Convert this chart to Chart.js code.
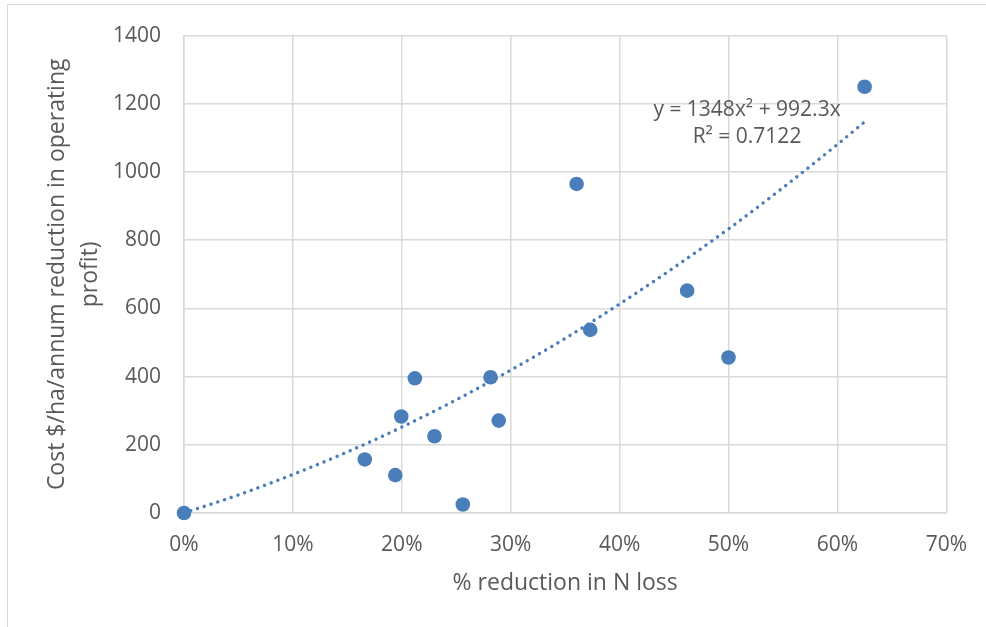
<!DOCTYPE html>
<html>
<head>
<meta charset="utf-8">
<script src="https://cdn.jsdelivr.net/npm/chart.js@4/dist/chart.umd.min.js"></script>
<style>
    html, body { margin: 0; padding: 0; background: #fff; }
    #wrap { position: relative; width: 986px; height: 627px; overflow: hidden; }
    #frame { position: absolute; left: 7px; top: 4px; width: 1000px; height: 700px; border: 1px solid #d9d9d9; box-sizing: border-box; }
    #chart { position: absolute; left: 0; top: 0; }
</style>
</head>
<body>
<div id="wrap">
    <div id="frame"></div>
    <canvas id="chart" width="986" height="627"></canvas>
</div>
<script>
// measured points: fraction of N loss reduced vs cost ($/ha/annum)
const nLossReduction = [0, 0.166, 0.194, 0.1995, 0.212, 0.230, 0.256, 0.2815, 0.289, 0.3605, 0.373, 0.462, 0.500, 0.625];
const costPerHa = [0, 157, 111, 283, 395, 225, 25, 398, 271, 965, 537, 652, 456, 1250];

// polynomial trendline as drawn (y = 1348x² + 992.3x), read at 5% steps
const trendX = [0, 0.05, 0.10, 0.15, 0.20, 0.25, 0.30, 0.35, 0.40, 0.45, 0.50, 0.55, 0.60, 0.625];
const trendY = [0, 53, 113, 179, 252, 332, 419, 512, 613, 720, 833, 954, 1081, 1147];

const xTicks = [0, 0.1, 0.2, 0.3, 0.4, 0.5, 0.6, 0.7];
const yTicks = [0, 200, 400, 600, 800, 1000, 1200, 1400];

const trendLabel = ['y = 1348x² + 992.3x', 'R² = 0.7122'];

const FONT = "'Open Sans', 'Noto Sans', sans-serif";
const TEXT = '#595959';
const GRID = '#d9d9d9';
const BLUE = '#4a7ebb';

const trendText = {
    id: 'trendText',
    afterDatasetsDraw(chart) {
        const ctx = chart.ctx;
        const xs = chart.scales.x, ys = chart.scales.y;
        ctx.save();
        ctx.font = '21px ' + FONT;
        ctx.fillStyle = TEXT;
        ctx.textAlign = 'center';
        ctx.textBaseline = 'middle';
        ctx.fillText(trendLabel[0], xs.getPixelForValue(0.517), ys.getPixelForValue(1182));
        ctx.fillText(trendLabel[1], xs.getPixelForValue(0.517), ys.getPixelForValue(1103));
        ctx.restore();
    }
};

new Chart(document.getElementById('chart'), {
    type: 'scatter',
    data: {
        datasets: [{
            label: 'Cost',
            data: nLossReduction.map((x, i) => ({ x: x, y: costPerHa[i] })),
            backgroundColor: BLUE,
            borderColor: BLUE,
            pointRadius: 7.3,
            pointHoverRadius: 7.3,
            borderWidth: 0,
            clip: false
        }, {
            label: 'Poly. (Cost)',
            data: trendX.map((x, i) => ({ x: x, y: trendY[i] })),
            showLine: true,
            pointRadius: 0,
            borderColor: BLUE,
            borderWidth: 3.4,
            borderDash: [0.1, 7],
            borderCapStyle: 'round',
            cubicInterpolationMode: 'monotone',
            fill: false,
            clip: false
        }]
    },
    options: {
        responsive: false,
        animation: false,
        events: [],
        layout: { padding: { left: 0, right: 38, top: 33, bottom: 20 } },
        plugins: {
            legend: { display: false },
            tooltip: { enabled: false }
        },
        scales: {
            x: {
                type: 'linear',
                min: 0,
                max: 0.7,
                afterBuildTicks: s => { s.ticks = xTicks.map(v => ({ value: v })); },
                afterFit: s => { s.height = 94; },
                grid: { color: GRID, lineWidth: 1.5, drawTicks: false },
                border: { color: GRID, width: 1.5 },
                ticks: {
                    padding: 19,
                    color: TEXT,
                    font: { family: FONT, size: 21 },
                    callback: v => Math.round(v * 100) + '%'
                },
                title: {
                    display: true,
                    text: '% reduction in N loss',
                    color: TEXT,
                    font: { family: FONT, size: 23 },
                    padding: { top: 0, bottom: 10 }
                }
            },
            y: {
                min: 0,
                max: 1400,
                afterBuildTicks: s => { s.ticks = yTicks.map(v => ({ value: v })); },
                afterFit: s => { s.width = 184; },
                grid: { color: GRID, lineWidth: 1.5, drawTicks: false },
                border: { color: GRID, width: 1.5 },
                ticks: {
                    padding: 23,
                    color: TEXT,
                    font: { family: FONT, size: 21 },
                    callback: v => String(v)
                },
                title: {
                    display: true,
                    text: ['Cost $/ha/annum reduction in operating', 'profit)'],
                    color: TEXT,
                    font: { family: FONT, size: 23, lineHeight: 1.43 },
                    padding: { top: 41, bottom: 0 }
                }
            }
        }
    },
    plugins: [trendText]
});
</script>
</body>
</html>
